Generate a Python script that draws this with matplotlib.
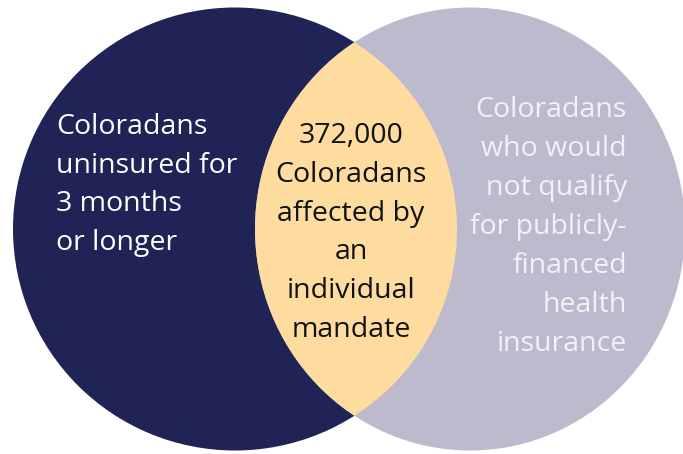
import matplotlib
matplotlib.use("Agg")
import matplotlib.pyplot as plt
from matplotlib.patches import Ellipse

# two sets and their overlap
set_labels = ["Coloradans\nuninsured for\n3 months\nor longer",
              "Coloradans\nwho would\nnot qualify\nfor publicly-\nfinanced\nhealth\ninsurance"]
overlap_count = 372000
overlap_label = "Coloradans\naffected by\nan\nindividual\nmandate"

navy = "#1f2356"
lavender = "#bdbacd"
peach = "#fedb9f"

plt.rcParams["font.family"] = ["Open Sans", "DejaVu Sans"]

fig = plt.figure(figsize=(6.83, 4.54), dpi=100)
ax = fig.add_axes([0, 0, 1, 1])
ax.set_xlim(0, 683)
ax.set_ylim(454, 0)
ax.axis("off")

left = Ellipse((235, 229), 444, 443, color=navy, lw=0)
right = Ellipse((470, 229), 430, 443, color=lavender, lw=0)
ax.add_patch(left)
ax.add_patch(right)
# lens = right ellipse clipped by the left one
lens = Ellipse((470, 229), 430, 443, color=peach, lw=0)
ax.add_patch(lens)
lens.set_clip_path(left)

fs = 20.5
ls = 1.52
ax.text(56, 185, set_labels[0], color="white", fontsize=fs, ha="left",
        va="center", linespacing=ls)
ax.text(627, 227, set_labels[1], color="#f2f2f6", fontsize=fs, ha="right",
        va="center", linespacing=ls)
ax.text(351, 233, f"{overlap_count:,}\n" + overlap_label, color="#111111",
        fontsize=fs, ha="center", va="center", linespacing=ls)

fig.savefig("out.png", dpi=100)
